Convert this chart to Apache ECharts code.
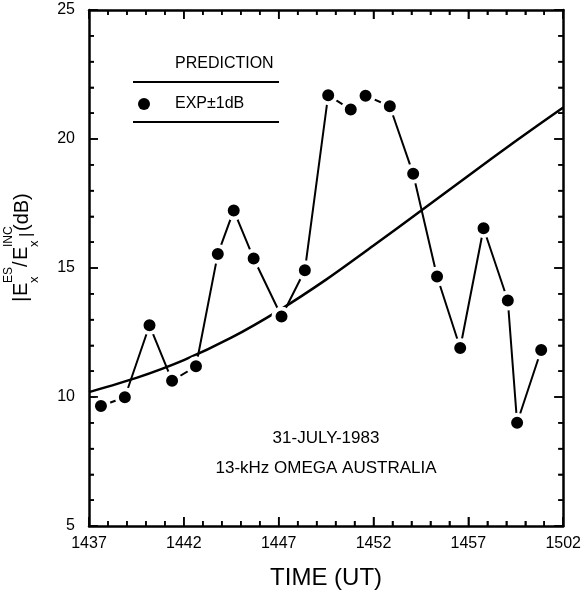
<!DOCTYPE html>
<html>
<head>
<meta charset="utf-8">
<script src="https://cdn.jsdelivr.net/npm/echarts@6/dist/echarts.min.js"></script>
<style>
html, body { margin: 0; padding: 0; background: #fff; }
#chart { width: 584px; height: 595px; }
</style>
</head>
<body>
<div id="chart"></div>
<script>
// time is counted in minutes after 14:37 UT
var timeLabels = ['1437', '1442', '1447', '1452', '1457', '1502'];
var minuteTicks = [0, 1, 2, 3, 4, 5, 6, 7, 8, 9, 10, 11, 12, 13, 14, 15, 16, 17, 18, 19, 20, 21, 22, 23, 24, 25];
var dbTicks = [5, 6, 7, 8, 9, 10, 11, 12, 13, 14, 15, 16, 17, 18, 19, 20, 21, 22, 23, 24, 25];

var expTime = [0.63, 1.89, 3.19, 4.38, 5.64, 6.79, 7.63, 8.68, 10.15, 11.38, 12.61, 13.80,
               14.58, 15.86, 17.09, 18.35, 19.57, 20.80, 22.08, 22.57, 23.84];
var expDb = [9.65, 9.99, 12.78, 10.63, 11.19, 15.54, 17.23, 15.37, 13.12, 14.91, 21.70, 21.14,
             21.68, 21.27, 18.65, 14.67, 11.90, 16.54, 13.74, 9.00, 11.82];
// the measured curve is broken between the 12th and 13th point
var breakAt = 12;

var predTime = [0, 2.5, 5, 7.5, 10, 12.5, 15, 17.5, 20, 22.5, 25];
var predDb = [10.19, 10.74, 11.43, 12.30, 13.35, 14.55, 15.87, 17.22, 18.58, 19.92, 21.22];

var FONT = '"Liberation Sans", Arial, Helvetica, sans-serif';
var X0 = 0, X1 = 25, Y0 = 5, Y1 = 25;

function pairs(xs, ys) {
    return xs.map(function (x, i) { return [x, ys[i]]; });
}

var expPts = pairs(expTime, expDb);

function frameAxis(pos, showLabel) {
    return {
        type: 'value',
        position: pos,
        axisLine: { show: true, onZero: false, lineStyle: { color: '#000', width: 2.5 } },
        axisTick: { show: true, inside: true, length: 9, lineStyle: { color: '#000', width: 1.5 } },
        minorTick: { show: true, splitNumber: 5, length: 5, lineStyle: { color: '#000', width: 1.5 } },
        splitLine: { show: false },
        minorSplitLine: { show: false },
        axisLabel: { show: showLabel, color: '#000', fontSize: 16, fontFamily: FONT }
    };
}

var xBottom = frameAxis('bottom', true);
xBottom.min = X0; xBottom.max = X1; xBottom.interval = 5;
xBottom.axisLabel.margin = 10;
xBottom.axisLabel.formatter = function (v) { return timeLabels[Math.round(v / 5)]; };
xBottom.name = 'TIME (UT)';
xBottom.nameLocation = 'middle';
xBottom.nameGap = 40;
xBottom.nameTextStyle = { color: '#000', fontSize: 24, fontFamily: FONT };

var xTop = frameAxis('top', false);
xTop.min = X0; xTop.max = X1; xTop.interval = 5;

var yLeft = frameAxis('left', true);
yLeft.min = Y0; yLeft.max = Y1; yLeft.interval = 5;
yLeft.axisLabel.margin = 14;

var yRight = frameAxis('right', false);
yRight.min = Y0; yRight.max = Y1; yRight.interval = 5;

function expSeries(data) {
    return {
        type: 'line',
        data: data,
        symbol: 'circle',
        symbolSize: 16,
        itemStyle: { color: '#000', borderColor: '#fff', borderWidth: 4 },
        lineStyle: { color: '#000', width: 2 }
    };
}

function txt(x, y, s, size, align) {
    return {
        type: 'text', x: x, y: y,
        style: { text: s, fill: '#000', font: size + 'px ' + FONT, textAlign: align || 'left', textVerticalAlign: 'middle' }
    };
}

function seg(a, b, w) {
    return {
        type: 'line', z: 100,
        shape: { x1: a[0], y1: a[1], x2: b[0], y2: b[1] },
        style: { stroke: '#000', lineWidth: w }
    };
}

var baseGraphic = [
    txt(175, 64, 'PREDICTION', 16),
    seg([133, 82], [279, 82], 2),
    { type: 'circle', shape: { cx: 144, cy: 104, r: 6 }, style: { fill: '#000' } },
    txt(175, 104, 'EXP±1dB', 16),
    seg([133, 122], [279, 122], 2),
    txt(326, 438, '31-JULY-1983', 17, 'center'),
    txt(326, 468, '13-kHz OMEGA AUSTRALIA', 17, 'center'),
    {
        // rotated axis title |E_x^ES / E_x^INC| (dB)
        type: 'group',
        x: 28, y: 312,
        rotation: Math.PI / 2,
        children: [
            txt(10, -7, '|', 21),
            txt(16, -7, 'E', 20),
            txt(29, 6, 'x', 13),
            txt(29, -19, 'ES', 12),
            txt(45, -7, '/', 20),
            txt(52, -7, 'E', 20),
            txt(65, 6, 'x', 13),
            txt(65, -19, 'INC', 12),
            txt(75, -2, '|', 17),
            txt(81, -6, '(dB)', 20)
        ]
    }
];

var chart = echarts.init(document.getElementById('chart'));
chart.setOption({
    animation: false,
    backgroundColor: '#fff',
    grid: { left: 89, right: 19, top: 10, bottom: 65 },
    xAxis: [xBottom, xTop],
    yAxis: [yLeft, yRight],
    series: [
        {
            type: 'line',
            data: pairs(predTime, predDb),
            smooth: 0.25,
            showSymbol: false,
            lineStyle: { color: '#000', width: 2.5 }
        },
        expSeries(expPts.slice(0, breakAt)),
        expSeries(expPts.slice(breakAt))
    ],
    graphic: baseGraphic
});

// inward ticks on all four sides, placed through the grid's own scales
var tickEls = [];
function px(v) { return chart.convertToPixel({ gridIndex: 0 }, v); }
minuteTicks.forEach(function (m) {
    var len = m % 5 === 0 ? 9 : 5;
    var b = px([m, Y0]), t = px([m, Y1]);
    tickEls.push(seg(b, [b[0], b[1] - len], 1.5), seg(t, [t[0], t[1] + len], 1.5));
});
dbTicks.forEach(function (d) {
    var len = d % 5 === 0 ? 9 : 5;
    var l = px([X0, d]), r = px([X1, d]);
    tickEls.push(seg(l, [l[0] + len, l[1]], 1.5), seg(r, [r[0] - len, r[1]], 1.5));
});
chart.setOption({ graphic: baseGraphic.concat(tickEls) });
</script>
</body>
</html>
